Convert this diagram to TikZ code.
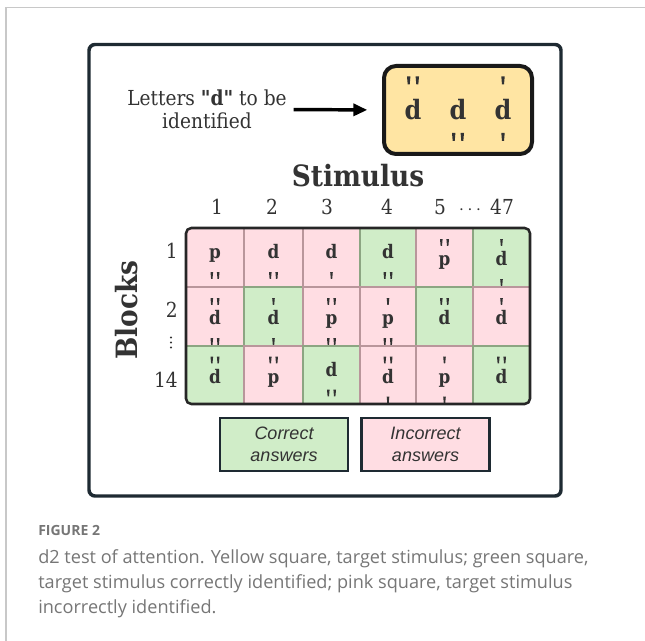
\documentclass[tikz,border=0pt]{standalone}
\usepackage{fontspec}
\setmainfont[FakeStretch=0.9, Ligatures=TeXOff]{DejaVu Serif}
\newfontfamily\capfont{Open Sans}
\newfontfamily\legfont{Liberation Sans}
\usetikzlibrary{arrows.meta}

\definecolor{txt}{RGB}{51,51,51}
\definecolor{framec}{RGB}{30,42,50}
\definecolor{pinkc}{RGB}{255,221,227}
\definecolor{pinkedge}{RGB}{185,150,155}
\definecolor{greenc}{RGB}{208,237,200}
\definecolor{greenedge}{RGB}{140,165,130}
\definecolor{yellowc}{RGB}{255,229,163}
\definecolor{capgray}{RGB}{118,118,118}
\definecolor{cardgray}{RGB}{200,200,200}

% small quote-like strokes above or below a letter (tapered towards the bottom)
\newcommand\onetick[3]{\fill[#3] (#1-1.3,#2-3.4) -- (#1+1.3,#2-3.4) -- (#1+0.7,#2+3.4) -- (#1-0.7,#2+3.4) -- cycle;}
\newcommand\tickmarks[3]{%
  \ifnum#3=1 \onetick{#1}{#2}{txt}\fi
  \ifnum#3=2 \onetick{#1-3.2}{#2}{txt}\onetick{#1+3.2}{#2}{txt}\fi}
\newcommand\bigtick[2]{\fill[txt] (#1-1.7,#2-4) -- (#1+1.7,#2-4) -- (#1+1,#2+4) -- (#1-1,#2+4) -- cycle;}
\newcommand\bigmarks[3]{%
  \ifnum#3=1 \bigtick{#1}{#2}\fi
  \ifnum#3=2 \bigtick{#1-4.3}{#2}\bigtick{#1+4.3}{#2}\fi}

\begin{document}
\begin{tikzpicture}[x=0.75pt,y=-0.75pt,
  serif/.style={font=\fontsize{15.5}{17.25}\selectfont, text=txt, inner sep=0pt},
  heading/.style={font=\bfseries\fontsize{22}{24}\selectfont, text=txt, inner sep=0pt},
  cellletter/.style={font=\bfseries\fontsize{14}{14}\selectfont, text=txt, anchor=base, inner sep=0pt},
  bigletter/.style={font=\bfseries\fontsize{20}{20}\selectfont, text=txt, anchor=base, inner sep=0pt},
  legbox/.style={draw=framec, line width=1.9pt, minimum width=96pt, minimum height=39.5pt,
    align=center, text=txt, font=\legfont\itshape\fontsize{13.5}{16.5}\selectfont, inner sep=0pt},
  caption/.style={font=\capfont\fontsize{13.6}{15}\selectfont, text=capgray, anchor=base west, inner sep=0pt},
  arrowline/.style={draw=black, line width=2.6pt, -{Triangle[length=10.5pt,width=9pt]}},
]
\useasboundingbox (0,0) rectangle (645,641);
\fill[white] (0,0) rectangle (645,641);

% card edges
\draw[cardgray, line width=1.1pt] (6,641) -- (6,7.5) -- (645,7.5);

% outer frame
\draw[framec, line width=2.6pt, rounded corners=4.5pt] (89,44.5) rectangle (561,496);

% target letters
\node[draw=black!90, fill=yellowc, line width=3pt, rounded corners=9pt,
      minimum width=111pt, minimum height=66pt, inner sep=0pt] (target) at (458,110) {};
\node[bigletter] (t1) at (413,120) {d};
\node[bigletter] (t2) at (458,120) {d};
\node[bigletter] (t3) at (503,120) {d};
\bigmarks{413}{80.5}{2}
\bigmarks{458}{137}{2}
\bigmarks{503}{80.5}{1}
\bigmarks{503}{137}{1}

\node[serif, align=center] (label) at (207,109.5) {Letters \textbf{"d"} to be\\identified};
\draw[arrowline, shorten <=5pt, shorten >=11pt] (label.east) -- (target.west);

% column heading and numbers
\node[heading, anchor=base] (stim) at (358,187) {Stimulus};
\node[serif, anchor=base] (n1) at (217,215) {1};
\node[serif, anchor=base] (n2) at (272,215) {2};
\node[serif, anchor=base] (n3) at (327,215) {3};
\node[serif, anchor=base] (n4) at (387,215) {4};
\node[serif, anchor=base] (n5) at (440,215) {5};
\node[serif, anchor=base] (ndots) at (470,215) {$\cdots$};
\node[serif, anchor=base] (n47) at (502,215) {47};

% row heading and numbers
\node[heading, rotate=90, anchor=base] (blocks) at (137,310) {Blocks};
\node[serif, anchor=base east] (r1) at (178,259) {1};
\node[serif, anchor=base east] (r2) at (178,317) {2};
\node[serif, anchor=base east] (r14) at (178,387) {14};
\fill[txt] (171,337.5) circle (1.1) (171,342.5) circle (1.1) (171,347.5) circle (1.1);

% grid of answers: column / row / fill / letter / marks above / marks below
\def\colx{{186,244,303,360,416,473,530}}
\def\rowy{{228,287,346,404}}
\begin{scope}
\clip[rounded corners=4pt] (186,228) rectangle (530,404);
\foreach \c/\r/\f/\l/\a/\b in {
  1/1/pink/p/0/2, 2/1/pink/d/0/2, 3/1/pink/d/0/1, 4/1/green/d/0/2, 5/1/pink/p/2/0, 6/1/green/d/1/1,
  1/2/pink/d/2/2, 2/2/green/d/1/1, 3/2/pink/p/2/2, 4/2/pink/p/1/2, 5/2/green/d/2/0, 6/2/pink/d/1/0,
  1/3/green/d/2/0, 2/3/pink/p/2/0, 3/3/green/d/0/2, 4/3/pink/d/2/1, 5/3/pink/p/1/1, 6/3/green/d/2/0}{
  \pgfmathsetmacro\xl{\colx[\c-1]}
  \pgfmathsetmacro\xr{\colx[\c]}
  \pgfmathsetmacro\yt{\rowy[\r-1]}
  \pgfmathsetmacro\yb{\rowy[\r]}
  \filldraw[fill=\f c, draw=\f edge, line width=0.8pt] (\xl,\yt) rectangle (\xr,\yb);
}
\foreach \c/\r/\f/\l/\a/\b in {
  1/1/pink/p/0/2, 2/1/pink/d/0/2, 3/1/pink/d/0/1, 4/1/green/d/0/2, 5/1/pink/p/2/0, 6/1/green/d/1/1,
  1/2/pink/d/2/2, 2/2/green/d/1/1, 3/2/pink/p/2/2, 4/2/pink/p/1/2, 5/2/green/d/2/0, 6/2/pink/d/1/0,
  1/3/green/d/2/0, 2/3/pink/p/2/0, 3/3/green/d/0/2, 4/3/pink/d/2/1, 5/3/pink/p/1/1, 6/3/green/d/2/0}{
  \pgfmathsetmacro\xl{\colx[\c-1]}
  \pgfmathsetmacro\xr{\colx[\c]}
  \pgfmathsetmacro\yt{\rowy[\r-1]}
  \pgfmathsetmacro\yb{\rowy[\r]}
  \pgfmathsetmacro\cx{(\xl+\xr)/2}
  \pgfmathsetmacro\cy{(\yt+\yb)/2}
  \pgfmathsetmacro\bl{\cy+(\a>0 ? 8 : 1)}
  \node[cellletter] (cell-\r-\c) at (\cx,\bl) {\l};
  \pgfmathsetmacro\ya{\bl-23}
  \pgfmathsetmacro\yb{\bl+17}
  \tickmarks{\cx}{\ya}{\a}
  \tickmarks{\cx}{\yb}{\b}
}
\end{scope}
\draw[black!85, line width=1.9pt, rounded corners=4pt] (186,228) rectangle (530,404);

% legend
\node[legbox, fill=greenc] (correct) at (284,444.5) {Correct\\answers};
\node[legbox, fill=pinkc] (incorrect) at (425.5,444.5) {Incorrect\\answers};

% caption
\node[caption, font=\capfont\bfseries\fontsize{10.5}{12}\selectfont] (fig) at (38,535) {FIGURE 2};
\node[caption] (cap1) at (38,563) {d2 test of attention. Yellow square, target stimulus; green square,};
\node[caption] (cap2) at (38,588.5) {target stimulus correctly identified; pink square, target stimulus};
\node[caption] (cap3) at (38,613.5) {incorrectly identified.};
\end{tikzpicture}
\end{document}
